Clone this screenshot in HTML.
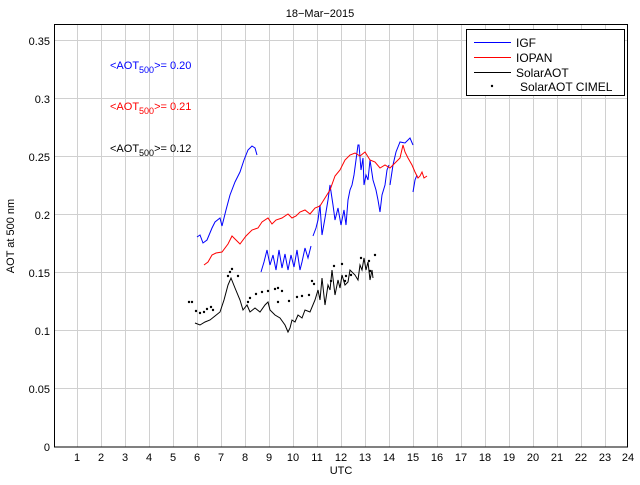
<!DOCTYPE html>
<html><head><style>
body{margin:0;background:#fff;}
svg text{font-family:"Liberation Sans",sans-serif;}
</style></head><body>
<svg width="640" height="480" xmlns="http://www.w3.org/2000/svg">
<rect width="640" height="480" fill="#fff"/>
<g stroke="#d0d0d0" stroke-width="1">
<path d="M77.5 24V447M101.5 24V447M125.5 24V447M149.5 24V447M173.5 24V447M197.5 24V447M221.5 24V447M245.5 24V447M269.5 24V447M293.5 24V447M317.5 24V447M341.5 24V447M365.5 24V447M389.5 24V447M413.5 24V447M437.5 24V447M461.5 24V447M485.5 24V447M509.5 24V447M533.5 24V447M557.5 24V447M581.5 24V447M605.5 24V447"/>
<path d="M54 40.5H628M54 98.5H628M54 156.5H628M54 214.5H628M54 272.5H628M54 330.5H628M54 388.5H628"/>
</g>
<rect x="54.5" y="24.5" width="573" height="422.5" fill="none" stroke="#000"/>
<g font-size="11" fill="#000">
<text x="320" y="17" text-anchor="middle">18−Mar−2015</text>
<g text-anchor="end">
<text x="50" y="451">0</text><text x="50" y="393">0.05</text><text x="50" y="335">0.1</text><text x="50" y="277">0.15</text><text x="50" y="219">0.2</text><text x="50" y="161">0.25</text><text x="50" y="103">0.3</text><text x="50" y="45">0.35</text>
</g>
<g text-anchor="middle">
<text x="77" y="461">1</text><text x="101" y="461">2</text><text x="125" y="461">3</text><text x="149" y="461">4</text><text x="173" y="461">5</text><text x="197" y="461">6</text><text x="221" y="461">7</text><text x="245" y="461">8</text><text x="269" y="461">9</text><text x="293" y="461">10</text><text x="317" y="461">11</text><text x="341" y="461">12</text><text x="365" y="461">13</text><text x="389" y="461">14</text><text x="413" y="461">15</text><text x="437" y="461">16</text><text x="461" y="461">17</text><text x="485" y="461">18</text><text x="509" y="461">19</text><text x="533" y="461">20</text><text x="557" y="461">21</text><text x="581" y="461">22</text><text x="605" y="461">23</text><text x="628" y="461">24</text>
<text x="341" y="474">UTC</text>
</g>
<text transform="translate(14,236) rotate(-90)" text-anchor="middle">AOT at 500 nm</text>
<text x="110" y="69" fill="#0000ff">&lt;AOT<tspan font-size="9" dy="4">500</tspan><tspan dy="-4">&gt;= 0.20</tspan></text>
<text x="110" y="110" fill="#ff0000">&lt;AOT<tspan font-size="9" dy="4">500</tspan><tspan dy="-4">&gt;= 0.21</tspan></text>
<text x="110" y="152">&lt;AOT<tspan font-size="9" dy="4">500</tspan><tspan dy="-4">&gt;= 0.12</tspan></text>
</g>
<g fill="none" stroke-width="1">
<polyline stroke="#0000ff" points="197,237 200,235 203,243 207,240 212,228 215,222 220,218 222,226 226,210 230,195 235,182 240,172 244,160 248,150 252,146 255,148 257,155"/>
<polyline stroke="#0000ff" points="261,272 264,262 267,250 270,265 273,255 276,270 279,250 282,268 285,254 288,270 291,255 294,267 297,250 300,270 302,262 305,248 308,258 311,246"/>
<polyline stroke="#0000ff" points="313,236 316,228 318,220 320,205 322,235 325,218 328,200 330,185 333,205 335,220 338,208 341,225 344,210 346,225 348,200 350,190 352,185 354,175 356,160 358,145 359,145 361,170 363,158 364,185 366,175 368,180 370,160 373,180 376,190 378,200 380,212 382,195 385,185 387,170 389,165"/>
<polyline stroke="#0000ff" points="390,185 393,165 396,152 400,142 405,143 410,138 413,145"/>
<polyline stroke="#0000ff" points="413,192 415,180 417,175"/>
<polyline stroke="#ff0000" points="204,265 208,262 212,255 216,253 222,252 228,244 232,236 236,240 240,244 246,236 252,230 258,228 262,222 268,218 272,224 276,220 282,218 288,214 292,218 296,216 300,212 305,210 310,214 315,208 320,206 325,198 330,190 335,176 340,170 345,160 350,155 355,153 360,156 365,152 370,160 375,162 380,168 385,165 390,168 395,163 398,160 400,158 403,145 405,152 408,158 412,165 415,172 418,178 420,176 422,172 424,178 427,176"/>
<polyline stroke="#000" points="195,323 200,325 205,322 210,320 215,316 220,312 224,300 228,285 231,278 235,288 240,300 243,310 247,305 250,312 255,308 260,312 265,305 268,302 270,310 275,315 280,318 285,325 288,332 290,328 292,320 295,322 298,315 302,318 305,310 310,312 315,300 318,290 320,300 322,278 325,305 328,285 330,290 332,270 335,295 338,280 340,288 342,275 345,285 348,282 350,270 355,275 358,280 360,265 362,270 364,258 366,270 368,262 370,280 372,270 373,278"/>
</g>
<g fill="#000">
<circle cx="189" cy="302" r="1.2"/><circle cx="192" cy="302" r="1.2"/><circle cx="196" cy="311" r="1.2"/><circle cx="200" cy="313" r="1.2"/><circle cx="204" cy="312" r="1.2"/><circle cx="207" cy="309" r="1.2"/><circle cx="211" cy="307" r="1.2"/><circle cx="213" cy="310" r="1.2"/>
<circle cx="228" cy="276" r="1.2"/><circle cx="230" cy="272" r="1.2"/><circle cx="232" cy="269" r="1.2"/><circle cx="238" cy="276" r="1.2"/>
<circle cx="248" cy="302" r="1.2"/><circle cx="250" cy="298" r="1.2"/><circle cx="256" cy="294" r="1.2"/><circle cx="262" cy="292" r="1.2"/><circle cx="268" cy="291" r="1.2"/><circle cx="275" cy="289" r="1.2"/><circle cx="278" cy="288" r="1.2"/><circle cx="282" cy="291" r="1.2"/><circle cx="278" cy="302" r="1.2"/>
<circle cx="289" cy="301" r="1.2"/><circle cx="297" cy="297" r="1.2"/><circle cx="302" cy="296" r="1.2"/><circle cx="309" cy="295" r="1.2"/><circle cx="312" cy="281" r="1.2"/><circle cx="314" cy="284" r="1.2"/>
<circle cx="331" cy="281" r="1.2"/><circle cx="334" cy="266" r="1.2"/><circle cx="342" cy="264" r="1.2"/><circle cx="345" cy="281" r="1.2"/><circle cx="346" cy="276" r="1.2"/><circle cx="351" cy="275" r="1.2"/><circle cx="361" cy="258" r="1.2"/><circle cx="369" cy="261" r="1.2"/><circle cx="370" cy="271" r="1.2"/><circle cx="375" cy="255" r="1.2"/>
</g>
<rect x="466.5" y="29.5" width="158" height="66" fill="#fff" stroke="#000"/>
<g stroke-width="1">
<line x1="474" y1="42.5" x2="511" y2="42.5" stroke="#0000ff"/>
<line x1="474" y1="57.5" x2="511" y2="57.5" stroke="#ff0000"/>
<line x1="474" y1="72.5" x2="511" y2="72.5" stroke="#000"/>
</g>
<circle cx="492" cy="86" r="1.2" fill="#000"/>
<g font-size="12" fill="#000">
<text x="516" y="47">IGF</text>
<text x="516" y="62">IOPAN</text>
<text x="516" y="77">SolarAOT</text>
<text x="520" y="91">SolarAOT CIMEL</text>
</g>
</svg>
</body></html>
